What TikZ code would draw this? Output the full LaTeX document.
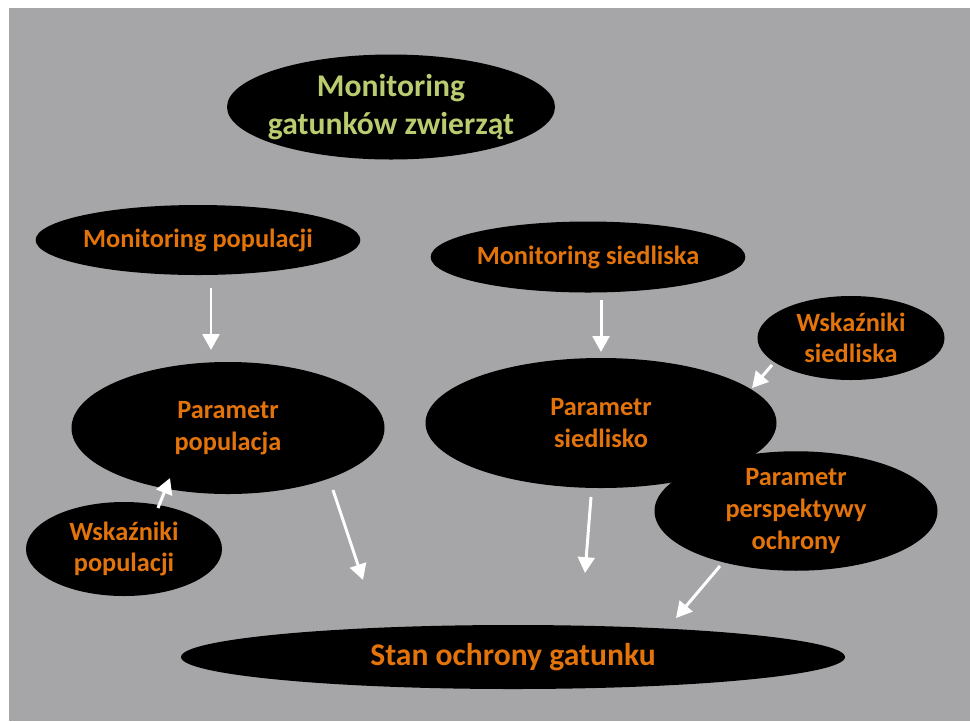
\documentclass[tikz,border=0pt]{standalone}
\usepackage{xcolor}
\usepackage{fontspec}
\setmainfont{Carlito}
\usepackage{tikz}
\usetikzlibrary{shapes.geometric,arrows.meta,positioning,calc}
\definecolor{slidegray}{HTML}{A6A6A8}
\definecolor{textorange}{HTML}{E3740B}
\definecolor{titlegreen}{HTML}{B9CD70}

\tikzset{
    blob/.style={ellipse, fill=black, inner sep=0pt, align=center,
        text=textorange, font=\fontsize{15}{18}\selectfont\bfseries},
    flow/.style={draw=white, line width=1.7pt,
        -{Triangle[length=9pt,width=9.5pt]}}
}

\begin{document}
\begin{tikzpicture}[x=0.02cm, y=-0.02cm]
        % Slide background
        \useasboundingbox (0,0) rectangle (970,721);
        \fill[slidegray] (9,8) rectangle (970,721);
        
        % Title
        \node[blob, inner xsep=-6pt, minimum width=328*0.02cm, minimum height=105*0.02cm,
              text=titlegreen, font=\fontsize{18}{22}\selectfont\bfseries]
              (title) at (391,107) {Monitoring\\gatunków zwierząt};
        
        % Monitoring
        \node[blob, minimum width=312*0.02cm, minimum height=70*0.02cm]
              (monpop) at (198,240) {Monitoring populacji};
        \node[blob, minimum width=311*0.02cm, minimum height=71*0.02cm]
              (monsied) at (588,257) {Monitoring siedliska};
        
        % Parameters
        \node[blob, minimum width=313*0.02cm, minimum height=132*0.02cm]
              (parpop) at (228,428) {Parametr\\populacja};
        \node[blob, minimum width=351*0.02cm, minimum height=130*0.02cm]
              (parsied) at (601,423) {Parametr\\siedlisko};
        \node[blob, minimum width=283*0.02cm, minimum height=118*0.02cm]
              (parpersp) at (796,511) {Parametr\\perspektywy\\ochrony};
        
        % Indicators
        \node[blob, minimum width=187*0.02cm, minimum height=84*0.02cm]
              (wsksied) at (851,338) {Wskaźniki\\siedliska};
        \node[blob, minimum width=196*0.02cm, minimum height=94*0.02cm]
              (wskpop) at (124,549) {Wskaźniki\\populacji};
        
        % Result
        \node[blob, minimum width=664*0.02cm, minimum height=64*0.02cm,
              font=\fontsize{18}{22}\selectfont\bfseries]
              (stan) at (513,657) {Stan ochrony gatunku};
        
        % Arrows
        \draw[flow] ($(monpop)+(13,48)$) -- ($(parpop)+(-17,-78)$);
        \draw[flow] ($(monsied)+(13,43)$) -- ($(parsied)+(0,-71)$);
        \draw[flow] ($(wsksied)+(-79,27)$) -- ($(parsied)+(151,-35)$);
        \draw[flow] ($(wskpop)+(34,-41)$) -- ($(parpop)+(-58,50)$);
        \draw[flow] ($(parpop)+(105,62)$) -- ($(stan)+(-150,-77)$);
        \draw[flow] ($(parsied)+(-10,74)$) -- ($(stan)+(72,-84)$);
        \draw[flow] ($(parpersp)+(-76,55)$) -- ($(stan)+(163,-39)$);
    \end{tikzpicture}
\end{document}
